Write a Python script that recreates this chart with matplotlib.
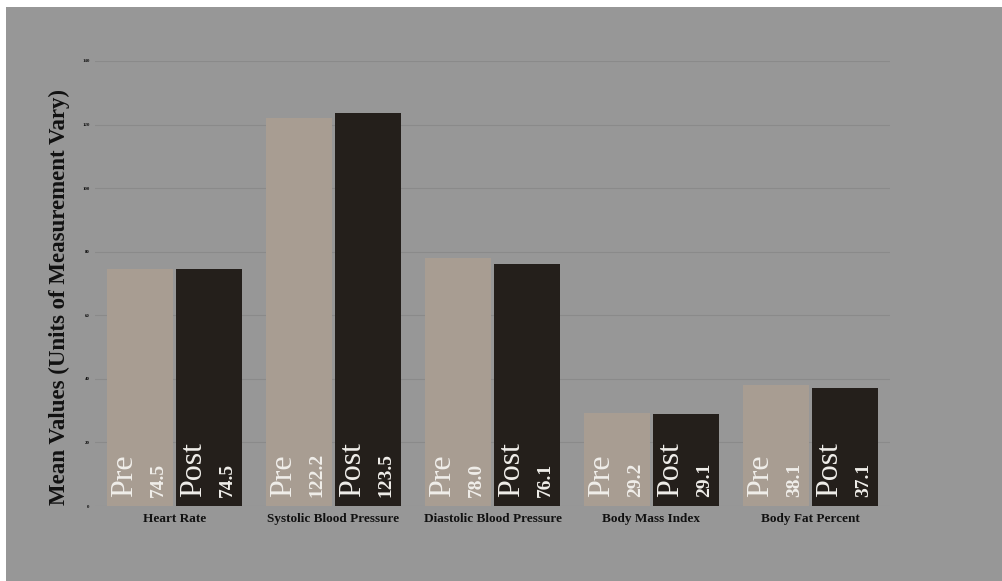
import numpy as np
import matplotlib.pyplot as plt
from matplotlib.patches import Rectangle

# Data
categorias = ["Heart Rate", "Systolic Blood Pressure", "Diastolic Blood Pressure",
              "Body Mass Index", "Body Fat Percent"]
pre = [74.5, 122.2, 78.0, 29.2, 38.1]
post = [74.5, 123.5, 76.1, 29.1, 37.1]
y_ticks = [0, 20, 40, 60, 80, 100, 120, 140]

cor_pre = "#a89d92"
cor_post = "#241f1b"
fundo = "#979797"
serif = "Liberation Serif"
branco = "#f0eeea"

W, H = 1002, 581
fig = plt.figure(figsize=(W / 100, H / 100), dpi=100, facecolor="white")
fig.patches.append(Rectangle((6 / W, 0), 1 - 6 / W, 1 - 7 / H,
                             transform=fig.transFigure, facecolor=fundo,
                             edgecolor="none", zorder=-10))

# eixos: x 95..890 px, y 61..506 px
ax = fig.add_axes([95 / W, (H - 506) / H, (890 - 95) / W, (506 - 61) / H])
ax.set_facecolor("none")

x = np.arange(len(categorias))
larg = 0.41
gap = 0.012
xp = x - larg / 2 - gap
xq = x + larg / 2 + gap

ax.bar(xp, pre, width=larg, color=cor_pre, zorder=3)
ax.bar(xq, post, width=larg, color=cor_post, zorder=3)

# rótulos dentro das barras
for xi, v in zip(xp, pre):
    ax.text(xi - 0.1, 2.8, "Pre", rotation=90, ha="center", va="bottom",
            color=branco, fontsize=23, fontfamily=serif, zorder=4)
    ax.text(xi + 0.115, 2.8, f"{v:.1f}", rotation=90, ha="center", va="bottom",
            color=branco, fontsize=14, fontweight="bold", fontfamily=serif, zorder=4)
for xi, v in zip(xq, post):
    ax.text(xi - 0.1, 2.8, "Post", rotation=90, ha="center", va="bottom",
            color=branco, fontsize=23, fontfamily=serif, zorder=4)
    ax.text(xi + 0.115, 2.8, f"{v:.1f}", rotation=90, ha="center", va="bottom",
            color=branco, fontsize=14, fontweight="bold", fontfamily=serif, zorder=4)

ax.set_xlim(-0.5, len(categorias) - 0.5)
ax.set_ylim(0, 140)
ax.set_yticks(y_ticks)
ax.set_yticklabels([str(t) for t in y_ticks], fontsize=3.5, fontfamily=serif,
                   fontweight="bold")
ax.set_xticks(x)
ax.set_xticklabels(categorias, fontsize=9.5, fontfamily=serif, fontweight="bold")
ax.tick_params(axis="both", length=0, pad=4, colors="#111111")
ax.tick_params(axis="x", pad=5)

ax.grid(axis="y", color="#8a8a8a", linewidth=0.8, zorder=0)
for s in ax.spines.values():
    s.set_visible(False)

ax.set_ylabel("Mean Values (Units of Measurement Vary)", fontsize=16.5,
              fontweight="bold", fontfamily=serif, color="#111111")
ax.yaxis.set_label_coords(-0.031, 0.47)

fig.savefig("out.png", dpi=100, facecolor="white")
plt.close()
